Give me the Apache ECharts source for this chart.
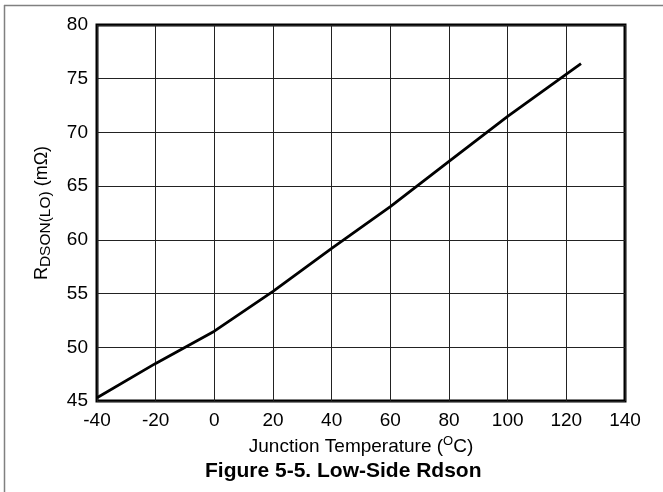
<!DOCTYPE html>
<html>
<head>
<meta charset="utf-8">
<script src="https://cdn.jsdelivr.net/npm/echarts@6/dist/echarts.min.js"></script>
<style>
  html, body { margin: 0; padding: 0; background: #fff; }
  #chart { width: 663px; height: 492px; }
</style>
</head>
<body>
<div id="chart"></div>
<script>
// Junction temperature (°C) and low-side on-resistance (mΩ)
const temperatures = [-40, -20, 0, 20, 40, 60, 80, 100, 125];
const rdsonLo = [45.3, 48.5, 51.5, 55.2, 59.2, 63.1, 67.3, 71.5, 76.4];

const xTicks = { min: -40, max: 140, interval: 20 };
const yTicks = { min: 45, max: 80, interval: 5 };

const FONT = '"Liberation Sans", Arial, sans-serif';

const chart = echarts.init(document.getElementById('chart'), null, { renderer: 'canvas' });

chart.setOption({
  animation: false,
  backgroundColor: '#fff',
  textStyle: { fontFamily: FONT },
  grid: {
    left: 97, top: 25, right: 38, bottom: 91,
    show: true, borderColor: '#000', borderWidth: 3, backgroundColor: 'transparent'
  },
  title: {
    text: 'Figure 5-5. Low-Side Rdson',
    left: 200, top: 456,
    textStyle: { fontFamily: FONT, fontSize: 21, fontWeight: 'bold', color: '#000' }
  },
  xAxis: {
    type: 'value',
    min: xTicks.min, max: xTicks.max, interval: xTicks.interval,
    axisLine: { show: false },
    axisTick: { show: false },
    axisLabel: { color: '#000', fontSize: 19, fontFamily: FONT, margin: 10 },
    splitLine: { show: true, lineStyle: { color: '#222', width: 1 } },
    name: '{n|Junction Temperature (}{sup|O}{n|C)}',
    nameLocation: 'middle',
    nameGap: 30,
    nameTextStyle: {
      color: '#000',
      rich: {
        n: { fontSize: 19, fontFamily: FONT, color: '#000' },
        sup: { fontSize: 13, fontFamily: FONT, color: '#000', padding: [0, 0, 10, 0] }
      }
    }
  },
  yAxis: {
    type: 'value',
    min: yTicks.min, max: yTicks.max, interval: yTicks.interval,
    axisLine: { show: false },
    axisTick: { show: false },
    axisLabel: { color: '#000', fontSize: 19, fontFamily: FONT, margin: 9 },
    splitLine: { show: true, lineStyle: { color: '#222', width: 1 } },
    name: '{n|R}{sub|DSON(LO)}{n| (mΩ)}',
    nameLocation: 'middle',
    nameRotate: 90,
    nameGap: 43,
    nameTextStyle: {
      color: '#000',
      rich: {
        n: { fontSize: 18, fontFamily: FONT, color: '#000' },
        sub: { fontSize: 15.5, fontFamily: FONT, color: '#000', padding: [8, 0, 0, 0] }
      }
    }
  },
  series: [{
    type: 'line',
    data: temperatures.map((t, i) => [t, rdsonLo[i]]),
    showSymbol: false,
    smooth: false,
    lineStyle: { color: '#000', width: 2.8 },
    z: 5
  }],
  graphic: [
    { type: 'line', shape: { x1: 4, y1: 5.5, x2: 663, y2: 5.5 }, style: { stroke: '#808080', lineWidth: 1.5 } },
    { type: 'line', shape: { x1: 4.5, y1: 5, x2: 4.5, y2: 492 }, style: { stroke: '#808080', lineWidth: 1.5 } }
  ]
});
</script>
</body>
</html>
